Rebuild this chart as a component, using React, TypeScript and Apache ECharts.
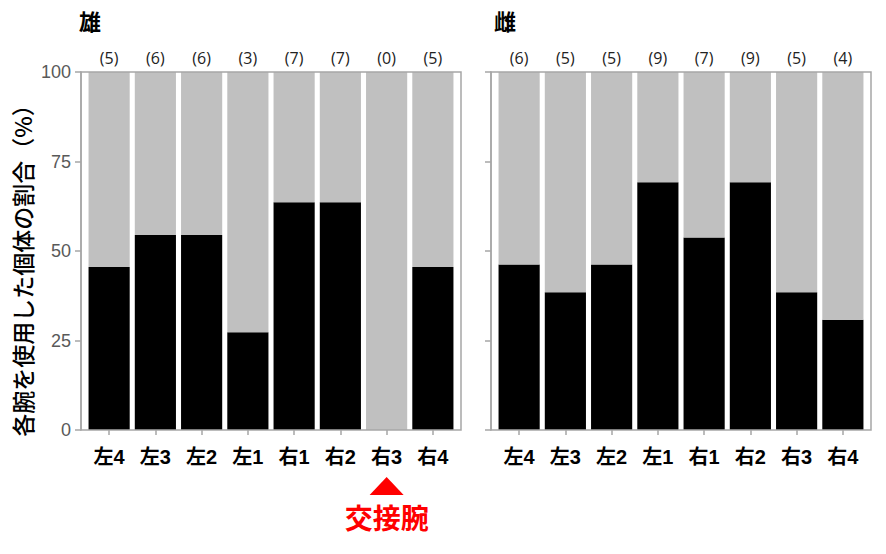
import React, { useEffect, useRef } from "react";
import * as echarts from "echarts";

const categories = ["左4", "左3", "左2", "左1", "右1", "右2", "右3", "右4"];
const maleCounts = [5, 6, 6, 3, 7, 7, 0, 5];
const femaleCounts = [6, 5, 5, 9, 7, 9, 5, 4];
const malePct = [45.5, 54.5, 54.5, 27.3, 63.6, 63.6, 0, 45.5];
const femalePct = [46.2, 38.5, 46.2, 69.2, 53.8, 69.2, 38.5, 30.8];
const yTicks = [0, 25, 50, 75, 100];
const panelTitles = ["雄", "雌"];
const yAxisTitle = "各腕を使用した個体の割合（%）";
const annotationText = "交接腕";
const annotationCategory = "右3";

const LATIN_CJK = "'Liberation Sans', 'Noto Sans CJK JP', sans-serif";
const GRAY_LINE = "#a6a6a6";

export default function App() {
  const ref = useRef<HTMLDivElement>(null);

  useEffect(() => {
    if (!ref.current) return;
    const chart = echarts.init(ref.current, null, { renderer: "svg" });

    const grids = [
      { left: 86, top: 72, width: 370, height: 358 },
      { left: 496, top: 72, width: 370, height: 358 },
    ];

    const xAxisBase = (gi: number) => ({
      type: "category",
      gridIndex: gi,
      data: categories,
      axisLine: { show: false },
      axisTick: {
        show: true,
        alignWithLabel: true,
        length: 5,
        lineStyle: { color: GRAY_LINE, width: 1.5 },
      },
      axisLabel: {
        color: "#000",
        fontSize: 20,
        fontWeight: "bold",
        fontFamily: LATIN_CJK,
        margin: 17,
      },
    });

    const yAxisBase = (gi: number, showLabels: boolean) => ({
      type: "value",
      gridIndex: gi,
      min: 0,
      max: 100,
      interval: 25,
      offset: 5,
      splitLine: { show: false },
      axisLine: { show: true, lineStyle: { color: GRAY_LINE, width: 1.5 } },
      axisTick: { show: true, length: 6, lineStyle: { color: GRAY_LINE, width: 1.5 } },
      axisLabel: {
        show: showLabels,
        color: "#595959",
        fontSize: 18,
        fontFamily: "'Liberation Sans', Arial, sans-serif",
        margin: 10,
        formatter: (v: number) => (yTicks.includes(v) ? String(v) : ""),
      },
    });

    const makeSeries = (gi: number, pct: number[], counts: number[]) => [
      {
        type: "bar",
        xAxisIndex: gi,
        yAxisIndex: gi,
        stack: "s" + gi,
        data: pct,
        barCategoryGap: "11%",
        itemStyle: { color: "#000" },
        silent: true,
      },
      {
        type: "bar",
        xAxisIndex: gi,
        yAxisIndex: gi,
        stack: "s" + gi,
        data: pct.map((v) => Math.round((100 - v) * 10) / 10),
        barCategoryGap: "11%",
        itemStyle: { color: "#c0c0c0" },
        silent: true,
        label: {
          show: true,
          position: "top",
          distance: 6,
          color: "#222",
          fontSize: 16,
          fontFamily: "'Open Sans', 'Liberation Sans', sans-serif",
          formatter: (p: any) => "(" + counts[p.dataIndex] + ")",
        },
      },
    ];

    const baseGraphics: any[] = grids.map((g) => ({
      type: "rect",
      shape: { x: g.left - 5, y: g.top, width: g.width + 10, height: g.height },
      style: { fill: "none", stroke: GRAY_LINE, lineWidth: 1.5 },
      silent: true,
      z: 10,
    }));
    baseGraphics.push({
      type: "text",
      x: 22,
      y: 265,
      rotation: Math.PI / 2,
      style: {
        text: yAxisTitle,
        fill: "#000",
        fontSize: 23,
        fontWeight: 500,
        fontFamily: "'Noto Sans CJK JP', sans-serif",
        align: "center",
        verticalAlign: "middle",
      },
      silent: true,
    });

    chart.setOption({
      animation: false,
      backgroundColor: "#fff",
      title: [
        {
          text: panelTitles[0],
          left: 79,
          top: 11,
          padding: 0,
          textStyle: { fontSize: 22, fontWeight: "bold", color: "#000", fontFamily: LATIN_CJK },
        },
        {
          text: panelTitles[1],
          left: 494,
          top: 11,
          padding: 0,
          textStyle: { fontSize: 22, fontWeight: "bold", color: "#000", fontFamily: LATIN_CJK },
        },
      ],
      grid: grids,
      xAxis: [xAxisBase(0), xAxisBase(1)],
      yAxis: [yAxisBase(0, true), yAxisBase(1, false)],
      series: [
        ...makeSeries(0, malePct, maleCounts),
        ...makeSeries(1, femalePct, femaleCounts),
      ],
      graphic: baseGraphics,
    });

    const ax = chart.convertToPixel({ xAxisIndex: 0 } as any, annotationCategory) as number;
    chart.setOption({
      graphic: [
        ...baseGraphics,
        {
          type: "polygon",
          shape: { points: [[ax - 17, 495], [ax + 17, 495], [ax, 477]] },
          style: { fill: "#ff0000" },
          silent: true,
        },
        {
          type: "text",
          x: ax,
          y: 517,
          style: {
            text: annotationText,
            fill: "#ff0000",
            fontSize: 28,
            fontWeight: "bold",
            fontFamily: "'Noto Sans CJK JP', sans-serif",
            align: "center",
            verticalAlign: "middle",
          },
          silent: true,
        },
      ],
    });

    return () => chart.dispose();
  }, []);

  return (
    <div
      ref={ref}
      style={{ position: "fixed", left: 0, top: 0, width: 886, height: 554, background: "#fff" }}
    />
  );
}
